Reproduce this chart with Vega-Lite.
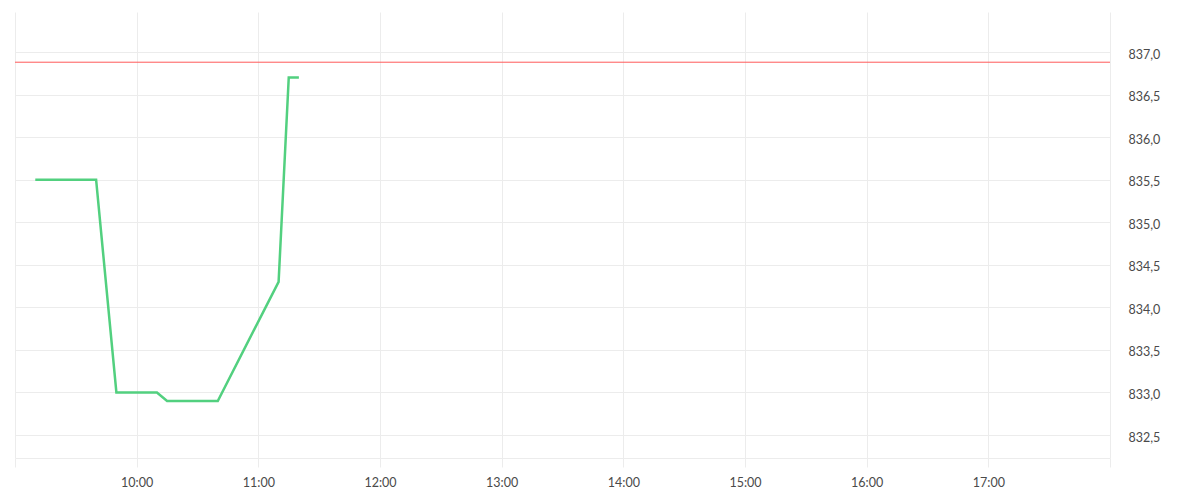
{
  "$schema": "https://vega.github.io/schema/vega-lite/v6.json",
  "width": 1095,
  "height": 446,
  "autosize": {"type": "none"},
  "padding": {"left": 15, "top": 12, "right": 90, "bottom": 42},
  "background": "#ffffff",
  "config": {
    "view": {"stroke": null},
    "font": "Lato",
    "axis": {
      "gridColor": "#ececec",
      "gridWidth": 1,
      "labelFont": "Lato",
      "labelFontSize": 12.5,
      "labelColor": "#4a4a4a",
      "title": null
    }
  },
  "layer": [
    {
      "data": {
        "values": [
          {"time": "2024-01-02T09:10:00Z", "price": 835.5},
          {"time": "2024-01-02T09:25:00Z", "price": 835.5},
          {"time": "2024-01-02T09:40:00Z", "price": 835.5},
          {"time": "2024-01-02T09:50:00Z", "price": 833.0},
          {"time": "2024-01-02T10:00:00Z", "price": 833.0},
          {"time": "2024-01-02T10:10:00Z", "price": 833.0},
          {"time": "2024-01-02T10:15:00Z", "price": 832.9},
          {"time": "2024-01-02T10:30:00Z", "price": 832.9},
          {"time": "2024-01-02T10:40:00Z", "price": 832.9},
          {"time": "2024-01-02T11:10:00Z", "price": 834.3},
          {"time": "2024-01-02T11:15:00Z", "price": 836.7},
          {"time": "2024-01-02T11:20:00Z", "price": 836.7}
        ]
      },
      "mark": {"type": "line", "color": "#52d07f", "strokeWidth": 2.5, "clip": true},
      "encoding": {
        "x": {
          "field": "time",
          "type": "temporal",
          "scale": {
            "type": "utc",
            "domain": [
              {"year": 2024, "month": 1, "date": 2, "hours": 9, "utc": true},
              {"year": 2024, "month": 1, "date": 2, "hours": 18, "utc": true}
            ]
          },
          "axis": {
            "values": [
              {"year": 2024, "month": 1, "date": 2, "hours": 9, "utc": true},
              {"year": 2024, "month": 1, "date": 2, "hours": 10, "utc": true},
              {"year": 2024, "month": 1, "date": 2, "hours": 11, "utc": true},
              {"year": 2024, "month": 1, "date": 2, "hours": 12, "utc": true},
              {"year": 2024, "month": 1, "date": 2, "hours": 13, "utc": true},
              {"year": 2024, "month": 1, "date": 2, "hours": 14, "utc": true},
              {"year": 2024, "month": 1, "date": 2, "hours": 15, "utc": true},
              {"year": 2024, "month": 1, "date": 2, "hours": 16, "utc": true},
              {"year": 2024, "month": 1, "date": 2, "hours": 17, "utc": true},
              {"year": 2024, "month": 1, "date": 2, "hours": 18, "utc": true}
            ],
            "labelExpr": "utcFormat(datum.value, '%H') == '09' || utcFormat(datum.value, '%H') == '18' ? '' : utcFormat(datum.value, '%H:%M')",
            "grid": true,
            "domain": true,
            "domainColor": "#ececec",
            "ticks": true,
            "tickColor": "#ececec",
            "tickSize": 9,
            "labelPadding": 9,
            "labelFlush": false
          }
        },
        "y": {
          "field": "price",
          "type": "quantitative",
          "scale": {"domain": [832.23, 837.47], "nice": false, "zero": false},
          "axis": {
            "orient": "right",
            "values": [832.5, 833, 833.5, 834, 834.5, 835, 835.5, 836, 836.5, 837],
            "labelExpr": "replace(format(datum.value, '.1f'), '.', ',')",
            "grid": true,
            "domain": false,
            "ticks": false,
            "labelPadding": 18,
            "labelOffset": 2
          }
        }
      }
    },
    {
      "data": {"values": [{"level": 836.88}]},
      "mark": {"type": "rule", "color": "#ff5a5a", "strokeWidth": 1},
      "encoding": {
        "y": {"field": "level", "type": "quantitative"}
      }
    }
  ]
}
